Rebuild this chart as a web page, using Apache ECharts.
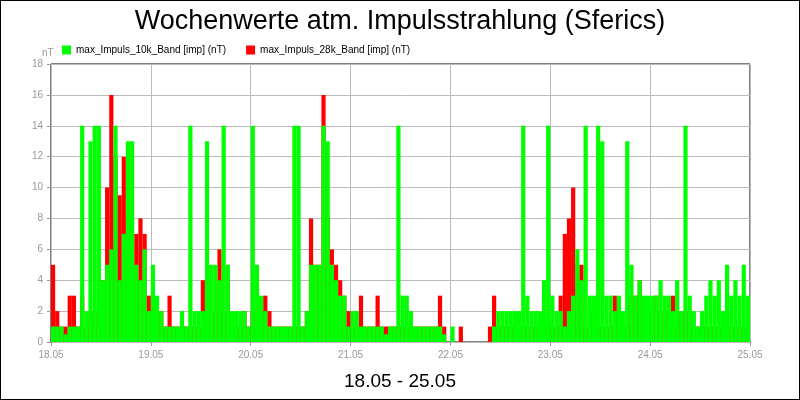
<!DOCTYPE html>
<html>
<head>
<meta charset="utf-8">
<script src="https://cdn.jsdelivr.net/npm/echarts@6/dist/echarts.min.js"></script>
<style>
html,body{margin:0;padding:0;background:#fff}
#chart{width:798px;height:398px;border:1px solid #000}
</style>
</head>
<body>
<div id="chart"></div>
<script>
// hourly maxima, one row of 24 values per day (18.05 .. 24.05)
var days = ['18.05', '19.05', '20.05', '21.05', '22.05', '23.05', '24.05', '25.05'];
var green10k = [
    1, 1, 1, 0.5, 1, 1, 1, 14, 2, 13, 14, 14, 4, 5, 6, 14, 4, 7, 13, 13, 5, 4, 6, 2,
    5, 3, 2, 1, 1, 1, 1, 2, 1, 14, 2, 2, 2, 13, 5, 5, 4, 14, 5, 2, 2, 2, 2, 1,
    14, 5, 3, 2, 1, 1, 1, 1, 1, 1, 14, 14, 1, 2, 5, 5, 5, 14, 13, 5, 4, 3, 3, 1,
    2, 2, 1, 1, 1, 1, 1, 1, 0.5, 1, 1, 14, 3, 3, 2, 1, 1, 1, 1, 1, 1, 1, 0.5, 0,
    1, 0, 0, 0, 0, 0, 0, 0, 0, 0, 1, 2, 2, 2, 2, 2, 2, 14, 3, 2, 2, 2, 4, 14,
    3, 2, 2, 1, 2, 3, 6, 4, 14, 3, 3, 14, 13, 3, 3, 2, 3, 2, 13, 5, 3, 4, 3, 3,
    3, 3, 4, 3, 3, 2, 4, 2, 14, 3, 2, 1, 2, 3, 4, 3, 4, 2, 5, 3, 4, 3, 5, 3
];
var red28k = [
    5, 2, 1, 1, 3, 3, 1, 3, 1, 2, 2, 1, 4, 10, 16, 12, 9.5, 12, 8, 6, 7, 8, 7, 3,
    3, 2, 2, 1, 3, 1, 1, 1, 1, 1, 1, 1, 4, 2, 4, 2, 6, 2, 4, 1, 1, 1, 2, 1,
    2, 2, 2, 3, 2, 1, 1, 1, 1, 1, 1, 1, 1, 2, 8, 5, 5, 16, 8, 6, 5, 4, 3, 2,
    1, 1, 3, 1, 1, 1, 3, 1, 1, 1, 1, 1, 1, 1, 1, 1, 1, 1, 1, 1, 1, 3, 1, 0,
    0, 0, 1, 0, 0, 0, 0, 0, 0, 1, 3, 1, 1, 1, 1, 1, 1, 1, 1, 1, 1, 1, 1, 1,
    1, 1, 3, 7, 8, 10, 5, 5, 1, 2, 2, 1, 1, 1, 1, 3, 2, 1, 1, 3, 3, 4, 2, 2,
    2, 3, 2, 2, 1, 3, 1, 2, 2, 2, 1, 1, 1, 1, 1, 1, 1, 1, 1, 1, 1, 1, 1, 1
];

function toPoints(arr) {
    return arr.map(function (v, i) { return [i + 0.5, v]; });
}

var chart = echarts.init(document.getElementById('chart'));
chart.setOption({
    animation: false,
    textStyle: { fontFamily: 'Liberation Sans, Arial, sans-serif' },
    title: [{
        text: 'Wochenwerte atm. Impulsstrahlung (Sferics)',
        left: 'center', top: 2,
        textStyle: { fontSize: 27, fontWeight: 'normal', color: '#000' }
    }, {
        text: '18.05 - 25.05',
        left: 'center', top: 366,
        textStyle: { fontSize: 19, fontWeight: 'normal', color: '#000' }
    }, {
        text: 'nT',
        left: 36, top: 42,
        textStyle: { fontSize: 10, fontWeight: 'normal', color: '#999' }
    }],
    legend: {
        left: 56, top: 39, itemWidth: 9, itemHeight: 9, itemGap: 20,
        icon: 'rect',
        textStyle: { fontSize: 10, color: '#000' },
        data: ['max_Impuls_10k_Band [imp] (nT)', 'max_Impuls_28k_Band [imp] (nT)']
    },
    grid: { left: 50, right: 49, top: 63, bottom: 57, show: true, borderColor: '#000', borderWidth: 1 },
    xAxis: {
        type: 'value', min: 0, max: 168, interval: 24,
        axisLine: { show: false },
        axisTick: { show: true, length: 4, lineStyle: { color: '#999' } },
        axisLabel: { fontSize: 10, color: '#999', formatter: function (v) { return days[v / 24]; } },
        splitLine: { show: true, lineStyle: { color: '#bbb' } }
    },
    yAxis: {
        type: 'value', min: 0, max: 18, interval: 2,
        axisLine: { show: false },
        axisTick: { show: true, length: 4, lineStyle: { color: '#999' } },
        axisLabel: { fontSize: 10, color: '#999' },
        splitLine: { show: true, lineStyle: { color: '#bbb' } }
    },
    series: [{
        name: 'max_Impuls_28k_Band [imp] (nT)',
        type: 'bar', barWidth: 4.2, barGap: '-100%',
        itemStyle: { color: '#ff0000' },
        data: toPoints(red28k)
    }, {
        name: 'max_Impuls_10k_Band [imp] (nT)',
        type: 'bar', barWidth: 4.2, barGap: '-100%',
        itemStyle: { color: '#00ff00' },
        data: toPoints(green10k)
    }]
});
</script>
</body>
</html>
